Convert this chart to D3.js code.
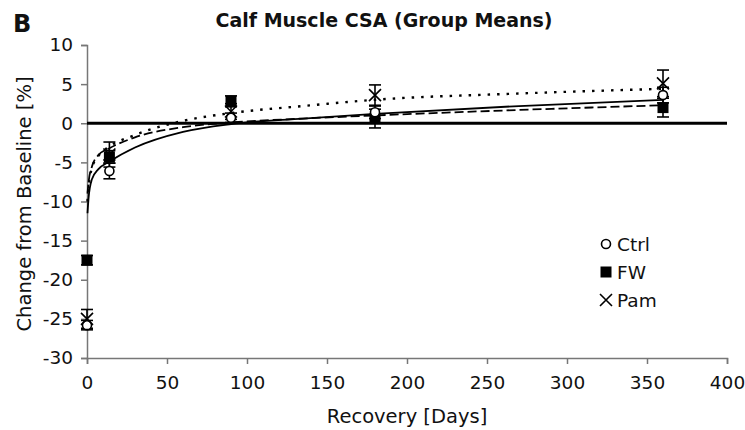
<!DOCTYPE html>
<html lang="en-us">
  <head>
    <meta charset="utf-8">
    <title>Calf Muscle CSA</title>
    <script src="https://cdn.jsdelivr.net/npm/d3@7"></script>
    <style>
      body { margin: 0; background: #fff; }
      text { font-family: "DejaVu Sans", Verdana, sans-serif; fill: #111; }
    </style>
  </head>
  <body>
    <div id="chart"></div>
    <script>

// measured days
var days = [0, 14, 90, 180, 360];

// group means, % change from baseline
var ctrl = [-25.8, -6.1, 0.7, 1.4, 3.6];
var fw   = [-17.5, -4.3, 2.8, 0.6, 2.0];
var pam  = [-25.0, -4.0, 1.5, 3.6, 5.1];

// error bars (+/-)
var ctrlErr = [0.6, 1.0, 0.6, 0.8, 1.0];
var fwErr   = [0.6, 0.8, 0.7, 1.2, 1.2];
var pamErr  = [1.2, 1.6, 1.0, 1.3, 1.7];

// trend lines
var trendDays = [0.3, 1, 3, 7, 14, 30, 60, 90, 135, 180, 270, 360];
var ctrlTrend = [-11.5, -9.5, -7.2, -5.9, -4.9, -3.1, -1.1, -0.1, 0.6, 1.2, 2.2, 3.0];
var fwTrend   = [-9.0, -7.5, -5.6, -4.1, -3.2, -1.8, -0.5, 0.1, 0.6, 1.0, 1.7, 2.3];
var pamTrend  = [-10.0, -8.0, -5.8, -4.2, -3.0, -1.5, 0.3, 1.3, 2.2, 3.0, 3.8, 4.4];

var xTicks = [0, 50, 100, 150, 200, 250, 300, 350, 400];
var yTicks = [10, 5, 0, -5, -10, -15, -20, -25, -30];

var W = 745, H = 430;
var svg = d3.select("#chart").append("svg")
    .attr("width", W)
    .attr("height", H);

var x = d3.scaleLinear().domain([0, 400]).range([87, 727]);
var y = d3.scaleLinear().domain([-30, 10]).range([358, 45]);

var fmt = function(d) { return String(d); };

// axes
var xAxis = svg.append("g")
    .attr("transform", "translate(0," + y(-30) + ")")
    .call(d3.axisBottom(x).tickValues(xTicks).tickFormat(fmt).tickSize(6).tickPadding(6));
var yAxis = svg.append("g")
    .attr("transform", "translate(" + x(0) + ",0)")
    .call(d3.axisLeft(y).tickValues(yTicks).tickFormat(fmt).tickSize(6).tickPadding(8));

[xAxis, yAxis].forEach(function(a) {
  a.select(".domain").attr("stroke", "#777").attr("stroke-width", 1.5);
  a.selectAll(".tick line").attr("stroke", "#777").attr("stroke-width", 1.5);
  a.selectAll(".tick text")
    .style("font-family", '"DejaVu Sans", Verdana, sans-serif')
    .style("font-size", "18.5px")
    .attr("fill", "#111");
});
xAxis.selectAll(".tick text").attr("dy", "1em");

// zero line
svg.append("line")
    .attr("x1", x(0)).attr("x2", x(400))
    .attr("y1", y(0)).attr("y2", y(0))
    .attr("stroke", "#000")
    .attr("stroke-width", 3);

// trend lines
var groups = [
  {name: "Ctrl", mean: ctrl, err: ctrlErr, trend: ctrlTrend, dash: null},
  {name: "FW", mean: fw, err: fwErr, trend: fwTrend, dash: "9,4"},
  {name: "Pam", mean: pam, err: pamErr, trend: pamTrend, dash: "2.5,7"}
];

var line = d3.line()
    .x(function(d) { return x(d[0]); })
    .y(function(d) { return y(d[1]); })
    .curve(d3.curveMonotoneX);

groups.forEach(function(g) {
  svg.append("path")
      .datum(d3.zip(trendDays, g.trend))
      .attr("d", line)
      .attr("fill", "none")
      .attr("stroke", "#000")
      .attr("stroke-width", g.dash === "2.5,7" ? 2.4 : 1.8)
      .attr("stroke-dasharray", g.dash);
});

// error bars
groups.forEach(function(g) {
  var eb = svg.append("g").selectAll("g")
      .data(d3.range(days.length))
      .enter().append("g");
  eb.append("line")
      .attr("x1", function(i) { return x(days[i]); })
      .attr("x2", function(i) { return x(days[i]); })
      .attr("y1", function(i) { return y(g.mean[i] - g.err[i]); })
      .attr("y2", function(i) { return y(g.mean[i] + g.err[i]); });
  [-1, 1].forEach(function(s) {
    eb.append("line")
        .attr("x1", function(i) { return x(days[i]) - 6; })
        .attr("x2", function(i) { return x(days[i]) + 6; })
        .attr("y1", function(i) { return y(g.mean[i] + s * g.err[i]); })
        .attr("y2", function(i) { return y(g.mean[i] + s * g.err[i]); });
  });
  eb.selectAll("line").attr("stroke", "#000").attr("stroke-width", 1.6);
});

// markers
function drawMarker(sel, name, cx, cy) {
  if (name === "Ctrl") {
    sel.append("circle")
        .attr("cx", cx).attr("cy", cy).attr("r", 4.5)
        .attr("fill", "#fff").attr("stroke", "#000").attr("stroke-width", 1.6);
  } else if (name === "FW") {
    sel.append("rect")
        .attr("x", cx - 5.5).attr("y", cy - 5.5)
        .attr("width", 11).attr("height", 11)
        .attr("fill", "#000");
  } else {
    sel.append("path")
        .attr("d", "M" + (cx - 6) + "," + (cy - 6) + "L" + (cx + 6) + "," + (cy + 6) +
                   "M" + (cx - 6) + "," + (cy + 6) + "L" + (cx + 6) + "," + (cy - 6))
        .attr("stroke", "#000").attr("stroke-width", 1.6).attr("fill", "none");
  }
}

[groups[1], groups[0], groups[2]].forEach(function(g) {
  var m = svg.append("g");
  days.forEach(function(d, i) {
    drawMarker(m, g.name, x(d), y(g.mean[i]));
  });
});

// legend
var legend = svg.append("g");
groups.forEach(function(g, i) {
  var cy = 244 + i * 28;
  drawMarker(legend, g.name, 606, cy);
  legend.append("text")
      .attr("x", 617)
      .attr("y", cy + 7)
      .style("font-size", "18.5px")
      .text(g.name);
});

// titles
svg.append("text")
    .attr("x", 384).attr("y", 27)
    .attr("text-anchor", "middle")
    .style("font-size", "19px")
    .style("font-weight", "bold")
    .text("Calf Muscle CSA (Group Means)");

svg.append("text")
    .attr("x", 13).attr("y", 32)
    .style("font-size", "24px")
    .style("font-weight", "bold")
    .text("B");

svg.append("text")
    .attr("x", 407).attr("y", 423)
    .attr("text-anchor", "middle")
    .style("font-size", "19.5px")
    .text("Recovery [Days]");

svg.append("text")
    .attr("transform", "translate(31,204) rotate(-90)")
    .attr("text-anchor", "middle")
    .style("font-size", "19.5px")
    .text("Change from Baseline [%]");

    </script>
  </body>
</html>
